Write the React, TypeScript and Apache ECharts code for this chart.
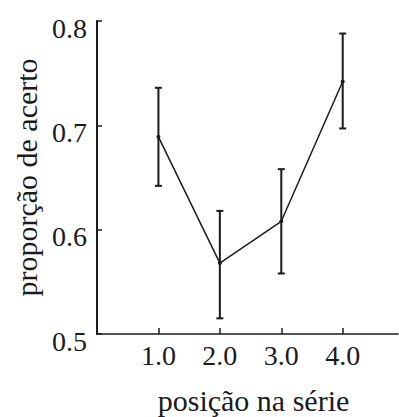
import React, { useEffect, useRef } from "react";
import * as echarts from "echarts";

const positions = [1, 2, 3, 4];
const means = [0.689, 0.568, 0.608, 0.742];
const upper = [0.736, 0.618, 0.658, 0.788];
const lower = [0.642, 0.515, 0.558, 0.697];
const yTicks = [0.5, 0.6, 0.7, 0.8];
const xTicks = [1, 2, 3, 4];
const xTitle = "posição na série";
const yTitle = "proporção de acerto";

export default function App() {
  const ref = useRef<HTMLDivElement>(null);
  useEffect(() => {
    if (!ref.current) return;
    const chart = echarts.init(ref.current, null, { renderer: "svg" });
    const font = "Liberation Serif";
    const ink = "#1b1b1b";
    chart.setOption({
      animation: false,
      backgroundColor: "#ffffff",
      grid: { left: 97, top: 21, right: 1, bottom: 83, containLabel: false, outerBoundsMode: "none" },
      xAxis: {
        type: "value",
        min: 0,
        max: 4.9,
        interval: 1,
        name: xTitle,
        nameLocation: "middle",
        nameGap: 51,
        nameTextStyle: { fontFamily: font, fontSize: 30, color: ink, padding: [0, 0, 0, 12] },
        axisLine: { show: true, onZero: false, lineStyle: { color: ink, width: 1.5 } },
        axisTick: { show: true, inside: true, length: 6, customValues: xTicks, lineStyle: { color: ink, width: 1.5 } },
        axisLabel: {
          customValues: xTicks,
          margin: 7,
          fontFamily: font,
          fontSize: 28,
          color: ink,
          formatter: (v: number) => v.toFixed(1),
        },
        splitLine: { show: false },
      },
      yAxis: {
        type: "value",
        min: 0.5,
        max: 0.8,
        interval: 0.1,
        name: yTitle,
        nameLocation: "middle",
        nameGap: 55,
        nameTextStyle: { fontFamily: font, fontSize: 30, color: ink },
        axisLine: { show: true, lineStyle: { color: ink, width: 2 } },
        axisTick: { show: true, inside: true, length: 5, customValues: yTicks, lineStyle: { color: ink, width: 1.5 } },
        axisLabel: {
          customValues: yTicks,
          margin: 10,
          verticalAlign: "top",
          lineHeight: 14,
          fontFamily: font,
          fontSize: 28,
          color: ink,
          formatter: (v: number) => v.toFixed(1),
        },
        splitLine: { show: false },
      },
      series: [
        {
          type: "line",
          data: positions.map((p, i) => [p, means[i]]),
          symbol: "circle",
          symbolSize: 4,
          itemStyle: { color: ink },
          lineStyle: { color: ink, width: 1.5 },
          z: 3,
        },
        {
          type: "custom",
          data: positions.map((p, i) => [p, lower[i], upper[i]]),
          renderItem: (params: any, api: any) => {
            const x = api.value(0);
            const lo = api.coord([x, api.value(1)]);
            const hi = api.coord([x, api.value(2)]);
            const hw = 3.5;
            const style = { stroke: ink, lineWidth: 2 };
            return {
              type: "group",
              children: [
                { type: "line", shape: { x1: lo[0], y1: lo[1], x2: hi[0], y2: hi[1] }, style },
                { type: "line", shape: { x1: hi[0] - hw, y1: hi[1], x2: hi[0] + hw, y2: hi[1] }, style },
                { type: "line", shape: { x1: lo[0] - hw, y1: lo[1], x2: lo[0] + hw, y2: lo[1] }, style },
              ],
            };
          },
          z: 2,
        },
      ],
    });
    return () => chart.dispose();
  }, []);
  return (
    <div
      ref={ref}
      style={{ position: "fixed", left: 0, top: 0, width: 399, height: 417, background: "#fff" }}
    />
  );
}
